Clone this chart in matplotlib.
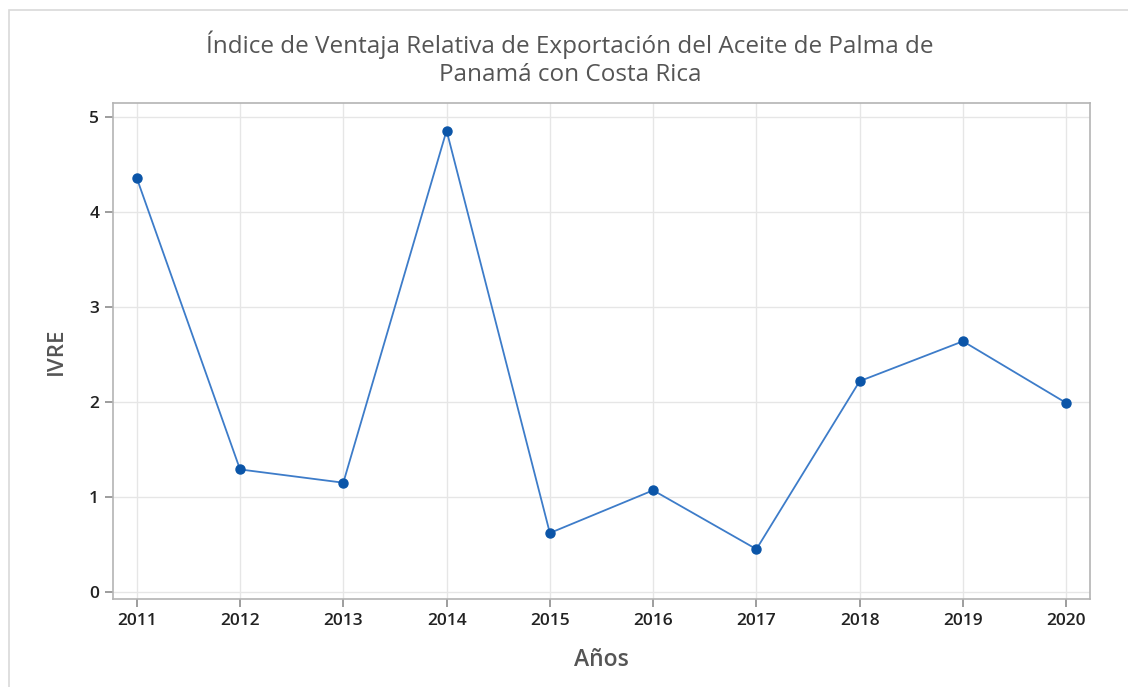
import numpy as np
import matplotlib.pyplot as plt
from matplotlib.patches import Rectangle

years = [2011, 2012, 2013, 2014, 2015, 2016, 2017, 2018, 2019, 2020]
ivre = [4.36, 1.29, 1.15, 4.86, 0.62, 1.07, 0.45, 2.22, 2.64, 1.99]

plt.rcParams['font.family'] = ['Open Sans', 'DejaVu Sans']

W, H = 1128, 687
dpi = 100
fig = plt.figure(figsize=(W/dpi, H/dpi), dpi=dpi)
ax = fig.add_axes([113/W, 1-599/H, (1090-113)/W, (599-103)/H])

# light frame around the chart
fig.patches.append(Rectangle((9/W, -0.1), 1.2, 1-10/H+0.1, transform=fig.transFigure,
                             fill=False, edgecolor='#d9d9d9', linewidth=1.2))

ax.plot(years, ivre, color='#3d7cc9', linewidth=1.3, marker='o', markersize=6.5,
        markerfacecolor='#0b55a8', markeredgecolor='#0b55a8', zorder=3)

ax.set_xlim(2010.77, 2020.23)
ax.set_ylim(-0.075, 5.15)
ax.set_xticks(years)
ax.set_yticks([0, 1, 2, 3, 4, 5])
ax.grid(True, color='#e6e6e6', linewidth=1)
ax.set_axisbelow(True)
for s in ax.spines.values():
    s.set_color('#b4b4b4')
    s.set_linewidth(1.2)
ax.tick_params(colors='#8c8c8c', length=6, width=1.2, labelsize=12.5,
               labelcolor='#222222', pad=4)
for lbl in ax.get_xticklabels() + ax.get_yticklabels():
    lbl.set_fontweight('semibold')

ax.set_xlabel('Años', fontsize=16.5, color='#555555', fontweight='semibold', labelpad=14)
ax.set_ylabel('IVRE', fontsize=16, color='#555555', fontweight='semibold', labelpad=16)

fig.text(570/W, 1-45/H, 'Índice de Ventaja Relativa de Exportación del Aceite de Palma de',
         ha='center', va='center', fontsize=17.5, color='#555555')
fig.text(570/W, 1-75/H, 'Panamá con Costa Rica',
         ha='center', va='center', fontsize=17.5, color='#555555')

fig.savefig('out.png', dpi=dpi)
